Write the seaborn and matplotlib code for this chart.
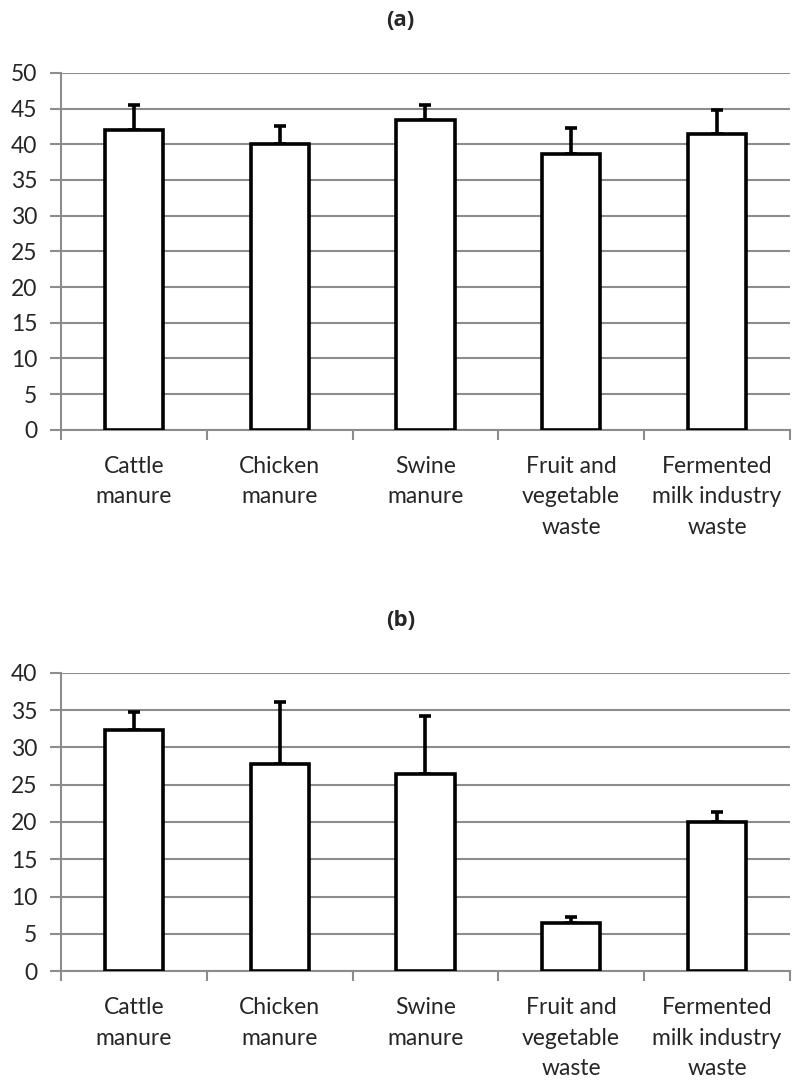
import matplotlib
matplotlib.use("Agg")
import matplotlib.pyplot as plt
import seaborn as sns
import numpy as np
import pandas as pd

categories = ["Cattle\nmanure", "Chicken\nmanure", "Swine\nmanure",
              "Fruit and\nvegetable\nwaste", "Fermented\nmilk industry\nwaste"]
values_a = [42.0, 40.1, 43.4, 38.6, 41.4]
err_a = [3.5, 2.5, 2.1, 3.7, 3.4]
values_b = [32.3, 27.8, 26.4, 6.4, 20.0]
err_b = [2.5, 8.3, 7.8, 0.8, 1.4]
yticks_a = list(range(0, 51, 5))
yticks_b = list(range(0, 41, 5))
titles = ["(a)", "(b)"]

sns.set_style("white")
plt.rcParams['font.family'] = ['Lato', 'DejaVu Sans']

fig = plt.figure(figsize=(7.93, 10.88), dpi=100)
ax_a = fig.add_axes([0.077, 0.605, 0.919, 0.328])
ax_b = fig.add_axes([0.077, 0.1075, 0.919, 0.274])

FS = 16.5

def draw(ax, vals, errs, yticks):
    df = pd.DataFrame({"cat": categories, "val": vals})
    sns.barplot(data=df, x="cat", y="val", ax=ax, color="white",
                edgecolor="black", linewidth=2.6, width=0.4, errorbar=None,
                zorder=3, saturation=1)
    ax.errorbar(np.arange(len(vals)), vals, yerr=[np.zeros(len(errs)), errs],
                fmt="none", ecolor="black", elinewidth=2.6, capsize=4,
                capthick=2.6, zorder=2)
    ax.set_ylim(yticks[0], yticks[-1])
    ax.set_xlim(-0.5, len(vals) - 0.5)
    ax.set_yticks(yticks)
    ax.set_yticklabels([str(t) for t in yticks], fontsize=FS)
    ax.yaxis.grid(True, color="#8c8c8c", linewidth=1.5, zorder=0)
    ax.set_axisbelow(True)
    for s in ["top", "right"]:
        ax.spines[s].set_visible(False)
    for s in ["left", "bottom"]:
        ax.spines[s].set_color("#8c8c8c")
        ax.spines[s].set_linewidth(1.5)
    ax.tick_params(axis="y", which="major", length=8, width=1.5,
                   color="#8c8c8c", left=True, pad=9)
    ax.set_xticks(np.arange(len(vals)))
    ax.set_xticklabels(categories, fontsize=FS, linespacing=1.55)
    ax.tick_params(axis="x", which="major", length=0, pad=19)
    ax.set_xticks(np.arange(-0.5, len(vals)), minor=True)
    ax.tick_params(axis="x", which="minor", length=7, width=1.5,
                   color="#8c8c8c", bottom=True)
    ax.set_xlabel("")
    ax.set_ylabel("")

draw(ax_a, values_a, err_a, yticks_a)
draw(ax_b, values_b, err_b, yticks_b)

for t, ypix in zip(titles, [20, 620]):
    fig.text(0.505, 1 - ypix / 1088, t, ha="center", va="center",
             fontsize=16, fontweight="bold", family=["Open Sans", "DejaVu Sans"])

fig.savefig("out.png", dpi=100, facecolor="white")
